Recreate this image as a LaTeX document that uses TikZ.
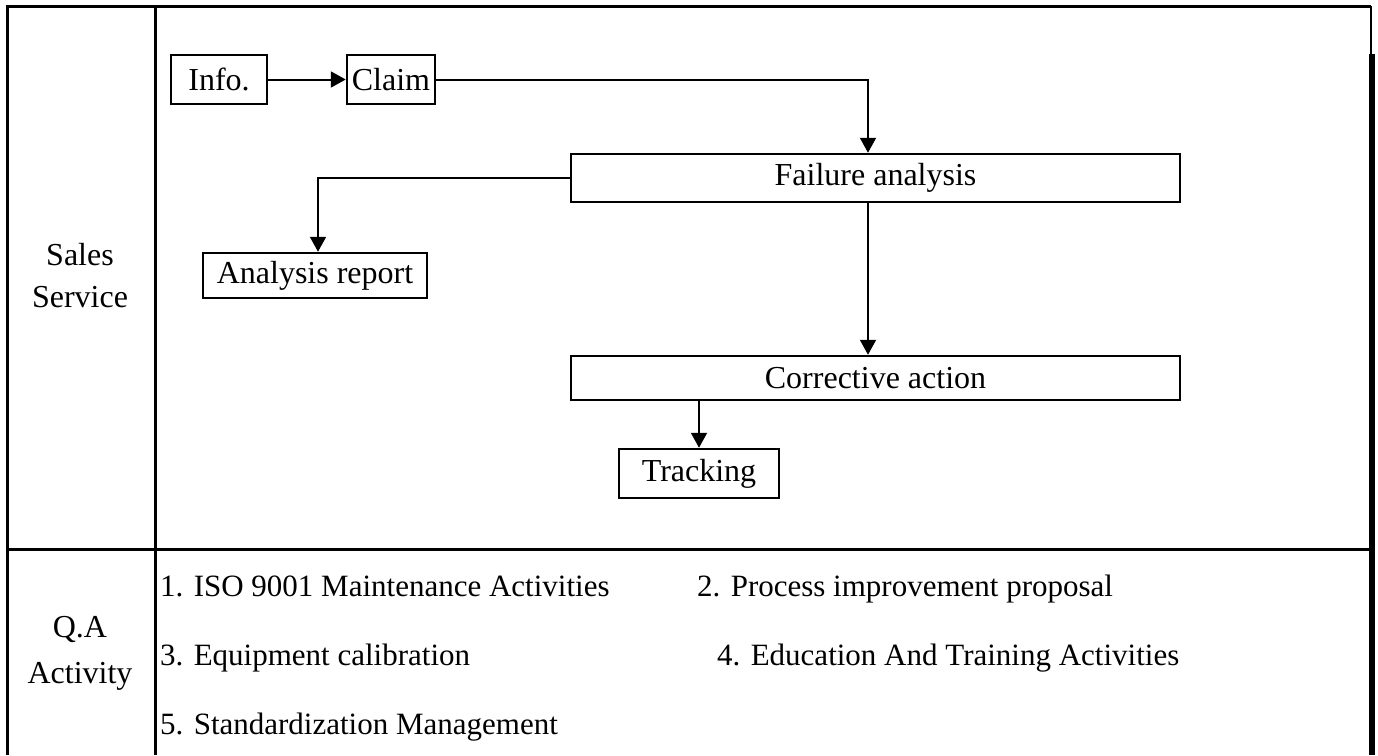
\documentclass[tikz,border=0pt]{standalone}
\usepackage{fontspec}
\setmainfont{Liberation Serif}
\usetikzlibrary{arrows.meta}
\begin{document}
\begin{tikzpicture}[x=1pt,y=-1pt,
  txt/.style={font=\fontsize{32}{42}\selectfont},
  box/.style={draw,line width=2.5pt,inner sep=0pt,txt},
  frame/.style={line width=3pt},
  conn/.style={line width=2pt,-{Triangle[length=15pt,width=16pt]}},
  item/.style={font=\fontsize{31}{37}\selectfont,anchor=base west,inner sep=0pt}]
\useasboundingbox (0,0) rectangle (1378,755);
% frame
\draw[frame] (7,755) -- (7,6) -- (1371,6);
\draw[line width=2pt] (1371,6) -- (1371,54);
\fill (1369,54) rectangle (1375,755);
\draw[frame] (155,6) -- (155,755);
\draw[frame] (7,549) -- (1369,549);
% boxes
\node[box,minimum width=96pt,minimum height=49pt] (info) at (219,79.5) {Info.};
\node[box,minimum width=88pt,minimum height=49pt] (claim) at (391,79.5) {Claim};
\node[box,minimum width=609pt,minimum height=48pt] (fa) at (875.5,178) {Failure analysis};
\node[box,minimum width=224pt,minimum height=45pt] (ar) at (315,275.5) {Analysis report};
\node[box,minimum width=609pt,minimum height=44pt] (ca) at (875.5,378) {Corrective action};
\node[box,minimum width=160pt,minimum height=49pt] (tr) at (699,473.5) {Tracking};
% connectors
\draw[conn] (info) -- (claim);
\draw[conn] (claim.east) -| ([xshift=-7.5pt]fa.north);
\draw[conn] (fa.west) -| ([xshift=3pt]ar.north);
\draw[conn] ([xshift=-7.5pt]fa.south) -- ([xshift=-7.5pt]ca.north);
\draw[conn] (ca.south -| tr.north) -- (tr.north);
% labels
\node[txt,align=center] (ss) at (80,276) {Sales\\Service};
\node[txt,font=\fontsize{32}{46}\selectfont,align=center] (qa) at (80,653) {Q.A\\Activity};
\node[item] (i1) at (160,596) {1. ISO 9001 Maintenance Activities};
\node[item] (i2) at (697,596) {2. Process improvement proposal};
\node[item] (i3) at (160,665) {3. Equipment calibration};
\node[item] (i4) at (717,665) {4. Education And Training Activities};
\node[item] (i5) at (160,734) {5. Standardization Management};
\end{tikzpicture}
\end{document}
